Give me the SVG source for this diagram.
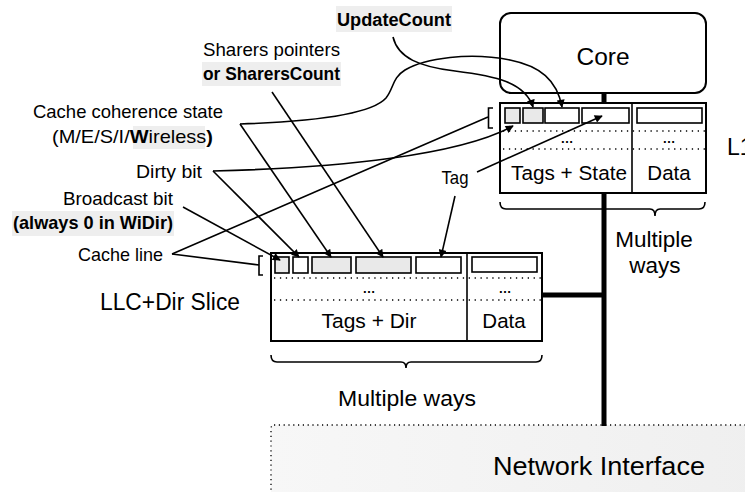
<svg xmlns="http://www.w3.org/2000/svg" width="745" height="492" viewBox="0 0 745 492">
  <style>
    text { font-family: "Liberation Sans", Arial, sans-serif; fill: #000; }
    .lbl { font-size: 18.5px; }
    .bold { font-weight: bold; }
    .box { fill: #fff; stroke: #000; stroke-width: 2; }
    .cell { fill: #fff; stroke: #000; stroke-width: 1.6; }
    .cell.g { fill: #e9e9e9; }
    .dots { stroke: #000; stroke-width: 1.4; stroke-dasharray: 1.3 4.6; fill: none; }
    .hl { fill: #eeeeee; }
    .bus { stroke: #000; stroke-width: 5; fill: none; }
    .brk { fill: none; stroke: #000; stroke-width: 1.6; }
    .con { fill: none; stroke: #000; stroke-width: 1.6; }
    .arr { marker-end: url(#ah); }
  </style>
  <defs>
    <marker id="ah" viewBox="0 0 10 10" refX="9" refY="5" markerWidth="9" markerHeight="8" markerUnits="userSpaceOnUse" orient="auto">
      <path d="M0,0 L10,5 L0,10 z" fill="#000"/>
    </marker>
    <linearGradient id="niFill" x1="0" y1="0" x2="1" y2="0">
      <stop offset="0" stop-color="#f7f7f7"/>
      <stop offset="1" stop-color="#efefef"/>
    </linearGradient>
  </defs>

  <!-- network interface strip -->
  <g id="network-interface">
    <rect x="271" y="425" width="500" height="100" rx="3" fill="url(#niFill)" stroke="#000" stroke-width="1.3" stroke-dasharray="1.2 3.6"/>
    <text x="599" y="475" font-size="25" text-anchor="middle" textLength="212" lengthAdjust="spacingAndGlyphs">Network Interface</text>
  </g>

  <!-- thick interconnect wires -->
  <g id="buses">
    <line class="bus" x1="604" y1="92" x2="604" y2="426"/>
    <line class="bus" x1="541" y1="295" x2="606" y2="295"/>
  </g>

  <!-- core -->
  <g id="core">
    <rect x="500" y="13" width="206" height="80" rx="11" fill="none" stroke="#000" stroke-width="2"/>
    <text x="603" y="65" font-size="24.5" text-anchor="middle">Core</text>
  </g>

  <!-- L1 cache -->
  <g id="l1-cache">
    <rect class="box" x="500" y="103" width="206" height="90"/>
    <line x1="632" y1="103" x2="632" y2="193" stroke="#000" stroke-width="1.6"/>
    <rect class="cell g" x="505" y="108" width="15" height="15"/>
    <rect class="cell g" x="523" y="108" width="20" height="15"/>
    <rect class="cell" x="545" y="108" width="34" height="15"/>
    <rect class="cell" x="582" y="108" width="47" height="15"/>
    <rect class="cell" x="637" y="108" width="65" height="15"/>
    <line class="dots" x1="503" y1="131" x2="705" y2="131"/>
    <line class="dots" x1="503" y1="149" x2="705" y2="149"/>
    <text x="567" y="143" font-size="13" font-weight="bold" text-anchor="middle">…</text>
    <text x="669" y="143" font-size="13" font-weight="bold" text-anchor="middle">…</text>
    <text x="569" y="180" font-size="20.5" text-anchor="middle" textLength="116" lengthAdjust="spacingAndGlyphs">Tags + State</text>
    <text x="669" y="180" font-size="20.5" text-anchor="middle">Data</text>
    <path class="brk" d="M493,108 H488.5 V128 H493"/>
    <path class="brk" d="M500,202 Q500,209 506,209 H650 Q655,209 655,216 Q655,209 660,209 H699 Q705,209 705,202"/>
    <text x="654" y="247" font-size="22.5" text-anchor="middle">Multiple</text>
    <text x="655" y="273" font-size="22.5" text-anchor="middle">ways</text>
    <text x="727" y="155" font-size="23">L1</text>
  </g>

  <!-- LLC + directory slice -->
  <g id="llc-slice">
    <rect class="box" x="271" y="253" width="271" height="88"/>
    <line x1="467" y1="253" x2="467" y2="341" stroke="#000" stroke-width="1.6"/>
    <rect class="cell g" x="275" y="257" width="14" height="16"/>
    <rect class="cell" x="293" y="257" width="15" height="16"/>
    <rect class="cell g" x="312" y="257" width="39" height="16"/>
    <rect class="cell g" x="356" y="257" width="55" height="16"/>
    <rect class="cell" x="416" y="257" width="45" height="16"/>
    <rect class="cell" x="472" y="257" width="65" height="15"/>
    <line class="dots" x1="274" y1="278" x2="541" y2="278"/>
    <line class="dots" x1="274" y1="300" x2="541" y2="300"/>
    <text x="369" y="293" font-size="13" font-weight="bold" text-anchor="middle">…</text>
    <text x="505" y="293" font-size="13" font-weight="bold" text-anchor="middle">…</text>
    <text x="369" y="328" font-size="20.5" text-anchor="middle" textLength="95" lengthAdjust="spacingAndGlyphs">Tags + Dir</text>
    <text x="504" y="328" font-size="20.5" text-anchor="middle">Data</text>
    <path class="brk" d="M263,256 H259 V275 H263"/>
    <path class="brk" d="M271,355 Q271,362 277,362 H401 Q406,362 406,368 Q406,362 411,362 H536 Q542,362 542,355"/>
    <text x="407" y="406" font-size="22.5" text-anchor="middle" textLength="138" lengthAdjust="spacingAndGlyphs">Multiple ways</text>
    <text x="170" y="310" font-size="23" text-anchor="middle" textLength="140" lengthAdjust="spacingAndGlyphs">LLC+Dir Slice</text>
  </g>

  <!-- field labels -->
  <g id="label-updatecount">
    <rect class="hl" x="336" y="6" width="116" height="26"/>
    <text class="bold" x="394" y="26" font-size="18" text-anchor="middle" textLength="114" lengthAdjust="spacingAndGlyphs">UpdateCount</text>
  </g>
  <g id="label-sharers">
    <text class="lbl" x="340" y="56" text-anchor="end" textLength="137" lengthAdjust="spacingAndGlyphs">Sharers pointers</text>
    <rect class="hl" x="202" y="62" width="139" height="24"/>
    <text class="lbl bold" x="340" y="80" text-anchor="end" textLength="137" lengthAdjust="spacingAndGlyphs">or SharersCount</text>
  </g>
  <g id="label-state">
    <text class="lbl" x="223" y="118" text-anchor="end" textLength="190" lengthAdjust="spacingAndGlyphs">Cache coherence state</text>
    <rect class="hl" x="133" y="126" width="72" height="23"/>
    <text class="lbl" x="213" y="143" text-anchor="end" textLength="161" lengthAdjust="spacingAndGlyphs">(M/E/S/I/<tspan class="bold">W</tspan>ireless<tspan class="bold">)</tspan></text>
  </g>
  <g id="label-dirty">
    <text class="lbl" x="202" y="178" text-anchor="end" textLength="66" lengthAdjust="spacingAndGlyphs">Dirty bit</text>
  </g>
  <g id="label-broadcast">
    <text class="lbl" x="173" y="205" text-anchor="end" textLength="110" lengthAdjust="spacingAndGlyphs">Broadcast bit</text>
    <rect class="hl" x="12" y="211" width="162" height="25"/>
    <text class="lbl bold" x="173" y="229" text-anchor="end" textLength="160" lengthAdjust="spacingAndGlyphs">(always 0 in WiDir)</text>
  </g>
  <g id="label-cacheline">
    <text class="lbl" x="163" y="261" text-anchor="end" textLength="85" lengthAdjust="spacingAndGlyphs">Cache line</text>
  </g>
  <g id="label-tag">
    <text class="lbl" x="455" y="184" text-anchor="middle" textLength="27" lengthAdjust="spacingAndGlyphs">Tag</text>
  </g>

  <!-- connectors from labels to fields -->
  <g id="connectors">
    <path class="con arr" d="M393,37 C398,58 420,67 455,71 C495,76 525,82 533,107"/>
    <path class="con arr" d="M240,124 C300,122 370,116 386,98 C394,88 392,78 405,70 C425,58 470,52 510,60 C540,66 557,80 562,107"/>
    <path class="con arr" d="M272,92 L383,257"/>
    <path class="con arr" d="M240,124 L331,257"/>
    <path class="con arr" d="M213,171 C340,168 460,155 513,126"/>
    <path class="con arr" d="M213,171 L299,257"/>
    <path class="con arr" d="M183,207 L280,260"/>
    <path class="con" d="M172,254 L488,117"/>
    <path class="con" d="M172,254 L259,265"/>
    <path class="con arr" d="M477,172 L602,116"/>
    <path class="con arr" d="M455,196 L441,257"/>
  </g>
</svg>
